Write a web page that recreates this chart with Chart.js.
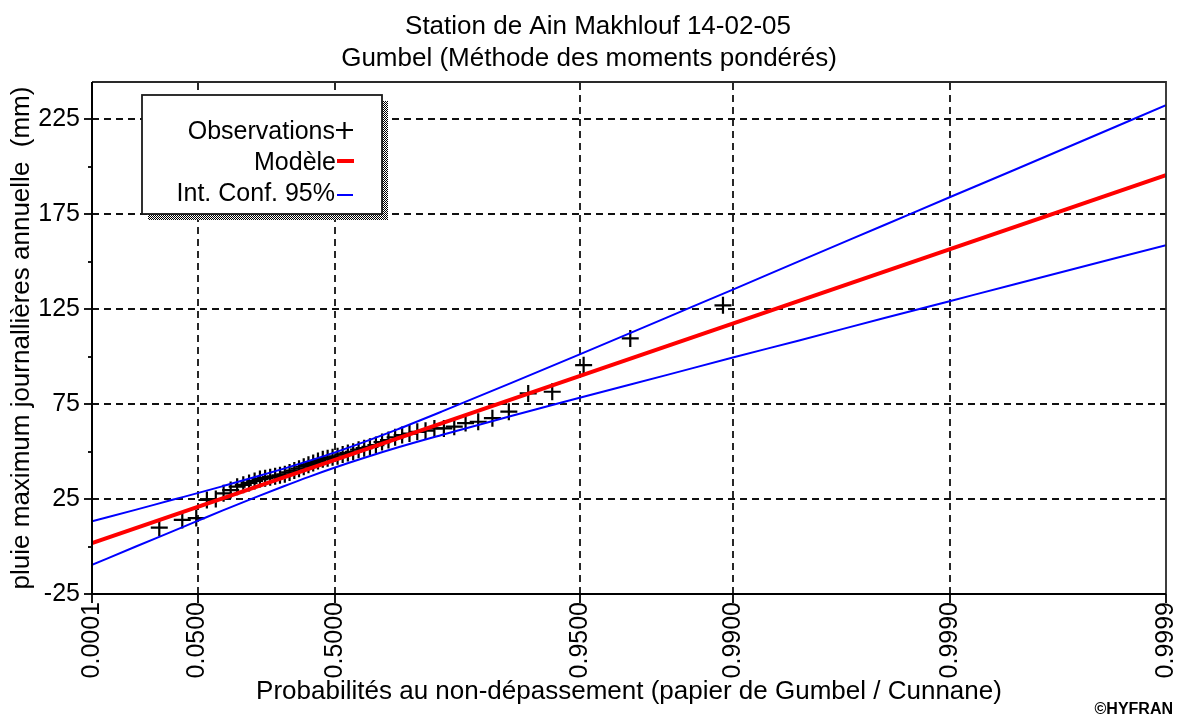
<!DOCTYPE html>
<html lang="fr">
<head>
<meta charset="utf-8">
<title>Station de Ain Makhlouf 14-02-05 – Gumbel</title>
<script src="https://cdn.jsdelivr.net/npm/chart.js@4.4.1/dist/chart.umd.min.js"></script>
<style>
  html, body { margin: 0; padding: 0; background: #fff; }
  #wrap { width: 1179px; height: 718px; position: relative; }
</style>
</head>
<body>
<div id="wrap"><canvas id="c" width="1179" height="718"></canvas></div>
<script>
// Non-exceedance probabilities of the ranked annual maxima (Cunnane positions)
const obsProb = [0.0111, 0.0295, 0.0480, 0.0664, 0.0849, 0.1033, 0.1218, 0.1402, 0.1587, 0.1771,
                 0.1956, 0.2140, 0.2325, 0.2509, 0.2694, 0.2878, 0.3063, 0.3247, 0.3432, 0.3616,
                 0.3801, 0.3985, 0.4170, 0.4354, 0.4539, 0.4723, 0.4908, 0.5092, 0.5277, 0.5461,
                 0.5646, 0.5830, 0.6015, 0.6199, 0.6384, 0.6568, 0.6753, 0.6937, 0.7122, 0.7306,
                 0.7491, 0.7675, 0.7860, 0.8044, 0.8229, 0.8413, 0.8598, 0.8782, 0.8967, 0.9151,
                 0.9336, 0.9520, 0.9705, 0.9889];
// Annual maximum daily rainfall (mm), ranked
const obsValue = [10.0, 14.0, 15.0, 24.5, 25.0, 28.0, 29.7, 31.5, 32.5, 33.5,
                  34.5, 35.5, 36.0, 36.5, 37.0, 37.5, 38.0, 39.0, 40.0, 41.0,
                  42.0, 43.0, 44.0, 45.0, 46.0, 46.5, 47.0, 47.5, 48.5, 49.2,
                  49.9, 51.0, 51.8, 52.5, 53.4, 55.0, 56.1, 57.5, 58.7, 59.5,
                  60.4, 61.0, 62.2, 62.2, 63.1, 65.0, 65.7, 67.6, 71.0, 80.6,
                  81.5, 95.5, 109.6, 127.0];

// Fitted Gumbel quantiles (straight line on Gumbel paper)
const modelProb = [0.0001, 0.9999];
const modelValue = [1.8, 195.5];

// 95 % confidence band
const ciProb  = [0.0001, 0.003, 0.02, 0.05, 0.1, 0.2, 0.3, 0.4, 0.5, 0.6, 0.7,
                 0.8, 0.9, 0.95, 0.98, 0.99, 0.995, 0.998, 0.999, 0.9995, 0.9999];
const ciUpper = [13.3, 19.3, 24.6, 28.1, 31.7, 36.7, 40.9, 45.1, 49.6, 55.0, 61.7,
                 71.0, 86.3, 101.2, 120.7, 135.3, 150.0, 169.3, 183.9, 198.4, 232.4];
const ciLower = [-9.7, -0.1, 8.0, 13.5, 18.9, 26.0, 31.6, 36.7, 41.6, 46.6, 52.1,
                 58.7, 68.9, 78.3, 90.4, 99.5, 108.4, 120.3, 129.2, 138.1, 158.7];

// Axis ticks
const xTickProbs  = [0.0001, 0.05, 0.5, 0.95, 0.99, 0.999, 0.9999];
const xTickLabels = ['0.0001', '0.0500', '0.5000', '0.9500', '0.9900', '0.9990', '0.9999'];
const yMajorTicks = [-25, 25, 75, 125, 175, 225];
const yMinorTicks = [0, 50, 100, 150, 200];
const yMin = -25;
const yMax = 244.6;

// Gumbel reduced variate: the x axis is linear in this variable
const gumbel = p => -Math.log(-Math.log(p));
const toPoints = (probs, vals) => probs.map((p, i) => ({ x: gumbel(p), y: vals[i] }));

const FONT = '"Liberation Sans", Arial, Helvetica, sans-serif';

function ditherPattern(ctx) {
  const c = document.createElement('canvas');
  c.width = 2; c.height = 2;
  const g = c.getContext('2d');
  g.fillStyle = '#ffffff'; g.fillRect(0, 0, 2, 2);
  g.fillStyle = '#000000'; g.fillRect(0, 0, 1, 1); g.fillRect(1, 1, 1, 1);
  return ctx.createPattern(c, 'repeat');
}

const paperPlugin = {
  id: 'gumbelPaper',
  beforeDatasetsDraw(chart) {
    const { ctx, chartArea: a, scales: { x, y } } = chart;
    ctx.save();
    ctx.strokeStyle = '#111';
    ctx.lineWidth = 1.8;
    ctx.setLineDash([7, 5]);
    xTickProbs.slice(1, -1).forEach(p => {
      const px = Math.round(x.getPixelForValue(gumbel(p)));
      ctx.beginPath(); ctx.moveTo(px, a.bottom); ctx.lineTo(px, a.top); ctx.stroke();
    });
    yMajorTicks.slice(1).forEach(v => {
      const py = Math.round(y.getPixelForValue(v));
      ctx.beginPath(); ctx.moveTo(a.left, py); ctx.lineTo(a.right, py); ctx.stroke();
    });
    ctx.restore();
  },
  afterDraw(chart) {
    const { ctx, chartArea: a, scales: { x, y } } = chart;
    ctx.save();
    ctx.setLineDash([]);

    // frame
    ctx.strokeStyle = '#2a2a2a';
    ctx.lineWidth = 1.8;
    ctx.beginPath();
    ctx.moveTo(a.left, a.top); ctx.lineTo(a.right, a.top); ctx.lineTo(a.right, a.bottom);
    ctx.stroke();
    ctx.strokeStyle = '#000';
    ctx.lineWidth = 2;
    ctx.beginPath();
    ctx.moveTo(a.left, a.top); ctx.lineTo(a.left, a.bottom); ctx.lineTo(a.right, a.bottom);
    ctx.stroke();

    // tick marks
    ctx.lineWidth = 1.8;
    yMajorTicks.forEach(v => {
      const py = Math.round(y.getPixelForValue(v));
      ctx.beginPath(); ctx.moveTo(a.left - 8, py); ctx.lineTo(a.left, py); ctx.stroke();
    });
    yMinorTicks.forEach(v => {
      const py = Math.round(y.getPixelForValue(v));
      ctx.beginPath(); ctx.moveTo(a.left - 4, py); ctx.lineTo(a.left, py); ctx.stroke();
    });
    xTickProbs.forEach(p => {
      const px = Math.round(x.getPixelForValue(gumbel(p)));
      ctx.beginPath(); ctx.moveTo(px, a.bottom); ctx.lineTo(px, a.bottom + 9); ctx.stroke();
    });

    // titles
    ctx.fillStyle = '#000';
    ctx.textAlign = 'center';
    ctx.textBaseline = 'alphabetic';
    ctx.font = '26px ' + FONT;
    ctx.fillText('Station de Ain Makhlouf 14-02-05', 598, 34);
    ctx.fillText('Gumbel (Méthode des moments pondérés)', 589, 66);

    // legend box with dithered shadow
    const bx = 142, by = 95, bw = 240, bh = 119;
    ctx.fillStyle = ditherPattern(ctx);
    ctx.fillRect(bx + 6, by + 6, bw, bh);
    ctx.fillStyle = '#fff';
    ctx.fillRect(bx, by, bw, bh);
    ctx.strokeStyle = '#1a1a1a';
    ctx.lineWidth = 1.8;
    ctx.strokeRect(bx, by, bw, bh);

    ctx.fillStyle = '#000';
    ctx.textAlign = 'right';
    ctx.font = '25px ' + FONT;
    ctx.fillText('Observations', 335, 139);
    ctx.fillText('Modèle', 336, 170);
    ctx.fillText('Int. Conf. 95%', 335, 201);

    ctx.strokeStyle = '#000'; ctx.lineWidth = 2.2;
    ctx.beginPath();
    ctx.moveTo(336, 130); ctx.lineTo(353, 130);
    ctx.moveTo(344.5, 122); ctx.lineTo(344.5, 139);
    ctx.stroke();
    ctx.strokeStyle = '#ff0000'; ctx.lineWidth = 4;
    ctx.beginPath(); ctx.moveTo(337, 161); ctx.lineTo(354, 161); ctx.stroke();
    ctx.strokeStyle = '#0000ff'; ctx.lineWidth = 2;
    ctx.beginPath(); ctx.moveTo(337, 195); ctx.lineTo(353, 195); ctx.stroke();

    // credit
    ctx.fillStyle = '#000';
    ctx.textAlign = 'right';
    ctx.font = 'bold 16px ' + FONT;
    ctx.fillText('©HYFRAN', 1173, 714);
    ctx.restore();
  }
};

new Chart(document.getElementById('c'), {
  type: 'scatter',
  data: {
    datasets: [
      {
        label: 'Modèle',
        data: toPoints(modelProb, modelValue),
        showLine: true,
        borderColor: '#ff0000',
        borderWidth: 4,
        pointRadius: 0,
        order: 0
      },
      {
        label: 'Int. Conf. 95%',
        data: toPoints(ciProb, ciUpper),
        showLine: true,
        borderColor: '#0000ff',
        borderWidth: 2,
        pointRadius: 0,
        cubicInterpolationMode: 'monotone',
        order: 1
      },
      {
        label: 'Int. Conf. 95% (inf.)',
        data: toPoints(ciProb, ciLower),
        showLine: true,
        borderColor: '#0000ff',
        borderWidth: 2,
        pointRadius: 0,
        cubicInterpolationMode: 'monotone',
        order: 2
      },
      {
        label: 'Observations',
        data: toPoints(obsProb, obsValue),
        showLine: false,
        pointStyle: 'cross',
        pointRadius: 8.5,
        pointBorderWidth: 2.2,
        borderColor: '#000',
        backgroundColor: '#000',
        order: 3
      }
    ]
  },
  options: {
    responsive: false,
    devicePixelRatio: 1,
    animation: false,
    events: [],
    layout: { padding: { left: 0, top: 82, right: 13, bottom: 0 } },
    plugins: { legend: { display: false }, tooltip: { enabled: false }, title: { display: false } },
    scales: {
      x: {
        type: 'linear',
        min: gumbel(xTickProbs[0]),
        max: gumbel(xTickProbs[xTickProbs.length - 1]),
        afterBuildTicks: s => { s.ticks = xTickProbs.map(p => ({ value: gumbel(p) })); },
        afterFit: s => { s.height = 124; s.paddingLeft = 0; s.paddingRight = 0; },
        grid: { display: false, drawTicks: false },
        border: { display: false },
        ticks: {
          autoSkip: false,
          minRotation: 90,
          maxRotation: 90,
          padding: 8,
          color: '#000',
          font: { family: FONT, size: 25 },
          callback: (v, i) => xTickLabels[i]
        },
        title: {
          display: true,
          text: 'Probabilités au non-dépassement (papier de Gumbel / Cunnane)',
          color: '#000',
          font: { family: FONT, size: 26 },
          padding: { top: 0, bottom: 11 }
        }
      },
      y: {
        type: 'linear',
        min: yMin,
        max: yMax,
        afterBuildTicks: s => {
          s.ticks = yMajorTicks.concat(yMinorTicks).sort((a, b) => a - b).map(v => ({ value: v }));
        },
        afterFit: s => { s.width = 92; s.paddingTop = 0; s.paddingBottom = 0; },
        grid: { display: false, drawTicks: false },
        border: { display: false },
        ticks: {
          autoSkip: false,
          padding: 12,
          color: '#000',
          font: { family: FONT, size: 25 },
          callback: v => (yMajorTicks.includes(v) ? String(v) : '')
        },
        title: {
          display: true,
          text: 'pluie maximum journallières annuelle  (mm)',
          color: '#000',
          font: { family: FONT, size: 26 },
          padding: { top: 6, bottom: 0 }
        }
      }
    }
  },
  plugins: [paperPlugin]
});
</script>
</body>
</html>
